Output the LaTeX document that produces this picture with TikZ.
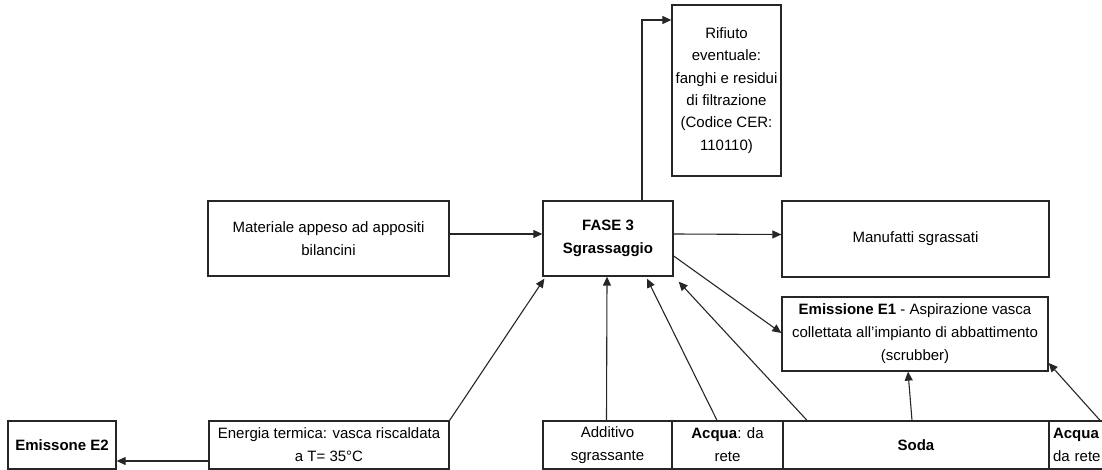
\documentclass[tikz,border=0pt]{standalone}
\usepackage{fontspec}
\setmainfont{Liberation Sans}
\usetikzlibrary{arrows.meta}
\begin{document}
\begin{tikzpicture}[x=1pt,y=-1pt,
  box/.style={draw=black!85, line width=1.3pt, fill=white, align=center, inner sep=1pt, font=\fontsize{15}{23}\selectfont},
  arr/.style={draw=black!85, line width=1.1pt, -{Triangle[length=9pt,width=8pt]}},
  ln/.style={draw=black!85, line width=1.1pt}]
\clip (0,0) rectangle (1102,470);
% upper nodes
\node[box, minimum width=241pt, minimum height=75pt] (mat) at (328.5,238.5) {Materiale appeso ad appositi\\bilancini};
\node[box, minimum width=130pt, minimum height=75pt] (fase) at (608,238.5) {\textbf{FASE 3}\\\textbf{Sgrassaggio}};
\node[box, minimum width=109pt, minimum height=171pt, font=\fontsize{15}{22.3}\selectfont] (rif) at (726.5,90.5) {Rifiuto\\eventuale:\\fanghi e residui\\di filtrazione\\(Codice CER:\\110110)};
\node[box, minimum width=267pt, minimum height=76pt] (man) at (915.5,239) {Manufatti sgrassati};
\node[box, minimum width=266pt, minimum height=74pt] (e1) at (915,334) {\textbf{Emissione E1} - Aspirazione vasca\\collettata all'impianto di abbattimento\\(scrubber)};
% bottom row
\node[box, minimum width=108pt, minimum height=48pt] (e2) at (62,445) {\textbf{Emissone E2}};
\node[box, minimum width=240pt, minimum height=48pt] (en) at (329,445) {Energia termica: vasca riscaldata\\a T= 35°C};
\node[box, minimum width=129pt, minimum height=48pt] (add) at (607.5,445) {Additivo\\sgrassante};
\node[box, minimum width=111pt, minimum height=48pt] (acq) at (727.5,445) {\textbf{Acqua}: da\\rete};
\node[box, minimum width=266pt, minimum height=48pt] (soda) at (916,445) {\textbf{Soda}};
\node[box, minimum width=58pt, minimum height=48pt, text width=50pt, align=left, inner sep=0pt] (acq2) at (1078,445) {\textbf{Acqua}\\\mbox{da rete}};
% connectors
\draw[arr] ([yshift=4.5pt]mat.east) -- ([yshift=4.5pt]fase.west);
\draw[arr] ([yshift=4.5pt]fase.east) -- ([yshift=4.5pt]man.west);
\draw[arr] ([xshift=34pt]fase.north) |- ([yshift=70.5pt]rif.west);
\draw[arr] ([yshift=-17.5pt]fase.east) -- ([yshift=1pt]e1.west);
\draw[arr] (en.north east) -- ([shift={(2pt,-2pt)}]fase.south west);
\draw[arr] ([xshift=-1pt]add.north) -- ([xshift=-1pt]fase.south);
\draw[arr] ([xshift=-10.5pt]acq.north) -- ([xshift=39pt,yshift=-2pt]fase.south);
\draw[arr] ([xshift=-109pt]soda.north) -- ([shift={(5pt,-5pt)}]fase.south east);
\draw[arr] ([xshift=-4pt]soda.north) -- ([xshift=-7pt]e1.south);
\draw[arr] ([xshift=22pt]acq2.north) -- ([yshift=-29pt]e1.east);
\draw[arr] ([yshift=-16pt]en.west) -- ([yshift=-16pt]e2.east);
\end{tikzpicture}
\end{document}
